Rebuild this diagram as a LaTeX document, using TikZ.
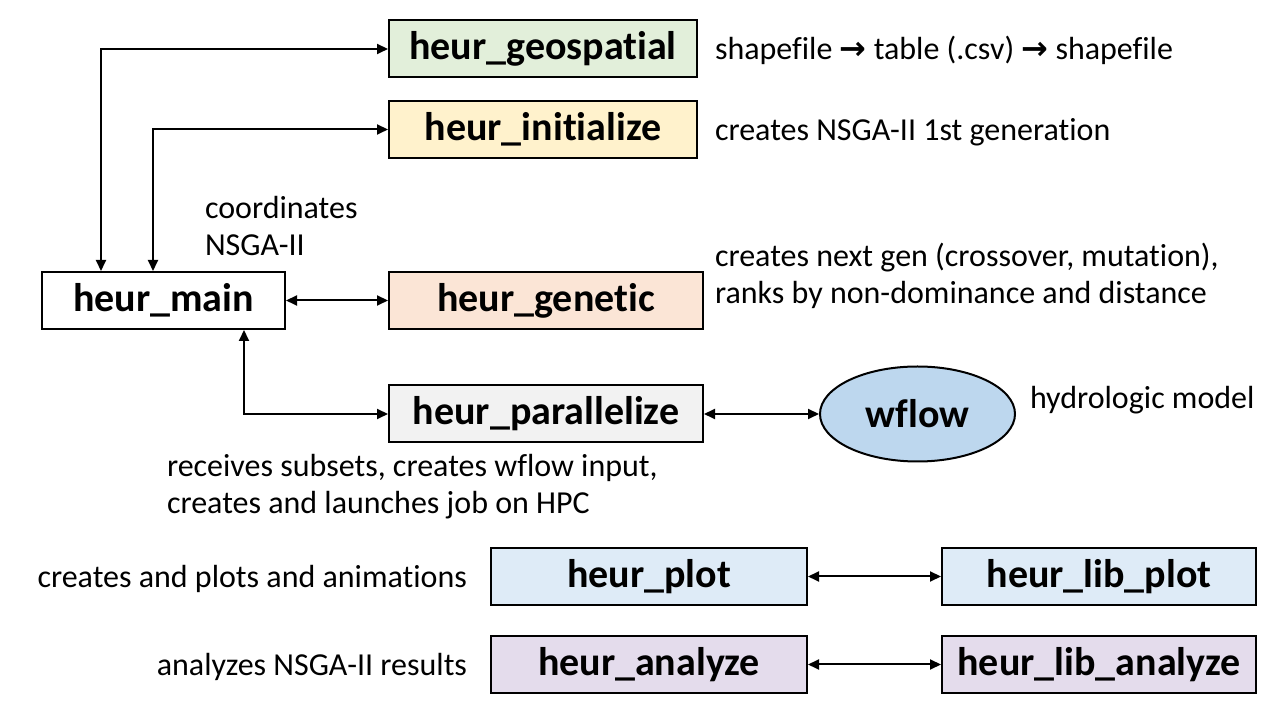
\documentclass[tikz,border=0pt]{standalone}
\usepackage{fontspec}
\setmainfont{Carlito}[Ligatures=NoCommon]
\newfontfamily\symfont{DejaVu Sans}
\usetikzlibrary{arrows.meta,shapes.geometric}
\tikzset{
  modbox/.style={draw=black,line width=2pt,minimum height=57pt,inner sep=0pt,font=\fontsize{40}{46}\selectfont\bfseries},
  note/.style={inner sep=0pt,outer sep=0pt,align=left,font=\fontsize{32}{37}\selectfont},
  link/.style={line width=2pt,{Triangle[length=11pt,width=10pt]}-{Triangle[length=11pt,width=10pt]}}
}
\begin{document}
\begin{tikzpicture}[x=1pt,y=1pt]
\definecolor{geoColor}{RGB}{226,239,218}
\definecolor{initColor}{RGB}{255,242,204}
\definecolor{genColor}{RGB}{251,229,214}
\definecolor{parColor}{RGB}{242,242,242}
\definecolor{wflColor}{RGB}{189,215,238}
\definecolor{plotColor}{RGB}{222,235,247}
\definecolor{anaColor}{RGB}{228,220,236}
\path[use as bounding box,fill=white] (0,0) rectangle (1280,720);

\node[modbox,fill=geoColor,minimum width=308pt] (geo) at (543,671) {heur\_geospatial};
\node[modbox,fill=initColor,minimum width=308pt] (init) at (543,590.5) {heur\_initialize};
\node[modbox,fill=white,minimum width=243pt] (main) at (163.5,419.5) {heur\_main};
\node[modbox,fill=genColor,minimum width=314pt] (gen) at (546,419.5) {heur\_genetic};
\node[modbox,fill=parColor,minimum width=314pt] (par) at (546,306) {heur\_parallelize};
\node[ellipse,draw=black,line width=2pt,fill=wflColor,minimum width=195pt,minimum height=95pt,inner sep=0pt,font=\fontsize{40}{46}\selectfont\bfseries] (wfl) at (917.5,306) {wflow};
\node[modbox,fill=plotColor,minimum width=316pt] (plot) at (649,143.5) {heur\_plot};
\node[modbox,fill=plotColor,minimum width=314pt] (libplot) at (1099,143.5) {heur\_lib\_plot};
\node[modbox,fill=anaColor,minimum width=316pt] (ana) at (649,55.5) {heur\_analyze};
\node[modbox,fill=anaColor,minimum width=314pt] (libana) at (1099,55.5) {heur\_lib\_analyze};

\draw[link] ([xshift=-62.5pt]main.north) |- (geo.west);
\draw[link] ([xshift=-10.5pt]main.north) |- (init.west);
\draw[link] (main.east) -- (gen.west);
\draw[link] ([xshift=80.5pt]main.south) |- (par.west);
\draw[link] (par.east) -- (wfl.west);
\draw[link] (plot.east) -- (libplot.west);
\draw[link] (ana.east) -- (libana.west);

\node[note,anchor=base west] (geotxt) at (715,660) {shapefile {\symfont\bfseries →} table (.csv) {\symfont\bfseries →} shapefile};
\node[note,anchor=base west] (inittxt) at (715,579) {creates NSGA-II 1st generation};
\node[note,anchor=base west] (maintxt) at (205,464) {coordinates\\NSGA-II};
\node[note,anchor=base west] (gentxt) at (715,416) {creates next gen (crossover, mutation),\\ranks by non-dominance and distance};
\node[note,anchor=base west] (wfltxt) at (1030,311) {hydrologic model};
\node[note,anchor=base west] (partxt) at (167,206) {receives subsets, creates wflow input,\\creates and launches job on HPC};
\node[note,anchor=base east] (plottxt) at (467,132) {creates and plots and animations};
\node[note,anchor=base east] (anatxt) at (467,44) {analyzes NSGA-II results};
\end{tikzpicture}
\end{document}
